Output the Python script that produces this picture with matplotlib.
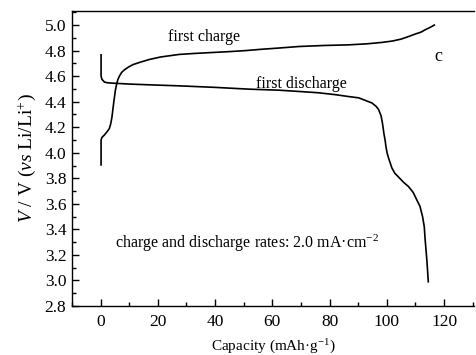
import matplotlib
matplotlib.use('Agg')
import matplotlib.pyplot as plt
from matplotlib.ticker import MultipleLocator

plt.rcParams['font.family'] = ['Liberation Serif', 'DejaVu Serif']
plt.rcParams['mathtext.fontset'] = 'custom'
plt.rcParams['mathtext.rm'] = 'Liberation Serif'
plt.rcParams['mathtext.it'] = 'Liberation Serif:italic'

# first charge curve (capacity mAh/g, voltage V)
charge_cap = [0.2, 0.2, 0.5, 1.4, 2.3, 3.1, 3.6, 4.0, 4.3, 4.6, 4.9, 5.2, 5.7, 6.1, 6.6, 7.4, 8.4,
              9.7, 11.3, 14, 17, 21, 27.5, 33, 39, 45, 50.7, 56, 62.3, 69.3, 78, 86.7, 93, 98.3,
              102, 105, 107.6, 110, 112, 113.4, 115, 116.6]
charge_v = [3.905, 4.10, 4.12, 4.14, 4.165, 4.19, 4.23, 4.28, 4.335, 4.39, 4.44, 4.49, 4.545, 4.575,
            4.60, 4.63, 4.65, 4.67, 4.69, 4.71, 4.73, 4.75, 4.77, 4.778, 4.785, 4.792, 4.80, 4.81,
            4.82, 4.832, 4.84, 4.845, 4.853, 4.864, 4.875, 4.89, 4.91, 4.93, 4.945, 4.963, 4.98, 5.0]

# first discharge curve
dis_cap = [0.2, 0.2, 0.5, 1.4, 2.5, 4.3, 10, 17, 27.5, 40, 51.9, 62.3, 69.3, 76, 82, 86.7, 90.2,
           92.5, 94.8, 96.2, 97.1, 98, 98.5, 99.0, 99.4, 99.7, 100.1, 100.6, 101.2, 101.8, 102.8,
           104.1, 105.8, 107.6, 109.2, 110.5, 111.6, 112.5, 113.1, 113.4, 113.7, 114.0, 114.5]
dis_v = [4.767, 4.60, 4.575, 4.553, 4.548, 4.545, 4.538, 4.532, 4.524, 4.512, 4.498, 4.49, 4.48,
         4.47, 4.455, 4.44, 4.43, 4.41, 4.39, 4.365, 4.34, 4.29, 4.23, 4.15, 4.10, 4.05, 4.0,
         3.96, 3.92, 3.88, 3.84, 3.81, 3.77, 3.735, 3.69, 3.63, 3.58, 3.50, 3.42, 3.32, 3.24, 3.16, 2.99]

fig = plt.figure(figsize=(4.76, 3.55), dpi=100)
ax = fig.add_axes([0.151, 0.138, 0.845, 0.831])

ax.plot(charge_cap, charge_v, color='black', linewidth=1.2)
ax.plot(dis_cap, dis_v, color='black', linewidth=1.2)

ax.set_xlim(-10, 130.5)
ax.set_ylim(2.8, 5.11)
ax.xaxis.set_major_locator(MultipleLocator(20))
ax.xaxis.set_minor_locator(MultipleLocator(10))
ax.yaxis.set_major_locator(MultipleLocator(0.2))
ax.yaxis.set_minor_locator(MultipleLocator(0.1))
ax.tick_params(which='both', direction='in', labelsize=12.5, width=1)
ax.tick_params(which='major', length=5)
ax.tick_params(which='minor', length=3)
ax.tick_params(axis='x', pad=6)
ax.tick_params(axis='y', pad=4)
ax.spines['right'].set_visible(False)
for s in ['left', 'bottom', 'top']:
    ax.spines[s].set_linewidth(1)

ax.set_xlabel('Capacity (mAh\u00b7g$^{-1}$)', fontsize=11, labelpad=5)
ax.set_ylabel('$V$ / V ($vs$ Li/Li$^{+}$)', fontsize=14, labelpad=5)

ax.text(36, 4.91, 'first charge', fontsize=11.5, ha='center', va='center')
ax.text(70, 4.535, 'first discharge', fontsize=11.5, ha='center', va='center')
ax.text(118, 4.75, 'c', fontsize=13, ha='center', va='center')
ax.text(5, 3.29, 'charge and discharge rates: 2.0 mA\u00b7cm$^{-2}$', fontsize=11.5, ha='left', va='center')

fig.savefig('out.png', dpi=100)
